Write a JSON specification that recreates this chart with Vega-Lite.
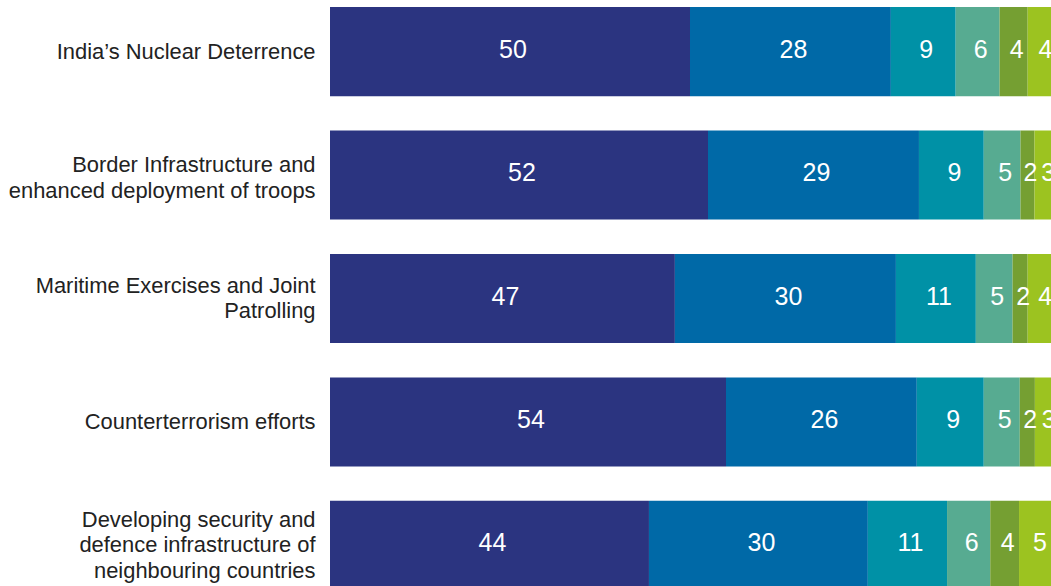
{
  "$schema": "https://vega.github.io/schema/vega-lite/v6.json",
  "autosize": {"type": "none"},
  "padding": {"left": 330, "top": 7, "right": 1, "bottom": 0},
  "width": 720,
  "height": 583,
  "background": "white",
  "config": {"view": {"stroke": null}, "font": "Liberation Sans"},
  "data": {"values": [
    {"cat": "India’s Nuclear Deterrence", "seg": 1, "pct": 50.0, "label": "50"},
    {"cat": "India’s Nuclear Deterrence", "seg": 2, "pct": 27.9, "label": "28"},
    {"cat": "India’s Nuclear Deterrence", "seg": 3, "pct": 9.0, "label": "9"},
    {"cat": "India’s Nuclear Deterrence", "seg": 4, "pct": 6.1, "label": "6"},
    {"cat": "India’s Nuclear Deterrence", "seg": 5, "pct": 3.9, "label": "4"},
    {"cat": "India’s Nuclear Deterrence", "seg": 6, "pct": 4.1, "label": "4"},
    {"cat": "Border Infrastructure and|enhanced deployment of troops", "seg": 1, "pct": 52.5, "label": "52"},
    {"cat": "Border Infrastructure and|enhanced deployment of troops", "seg": 2, "pct": 29.3, "label": "29"},
    {"cat": "Border Infrastructure and|enhanced deployment of troops", "seg": 3, "pct": 9.0, "label": "9"},
    {"cat": "Border Infrastructure and|enhanced deployment of troops", "seg": 4, "pct": 5.1, "label": "5"},
    {"cat": "Border Infrastructure and|enhanced deployment of troops", "seg": 5, "pct": 1.95, "label": "2"},
    {"cat": "Border Infrastructure and|enhanced deployment of troops", "seg": 6, "pct": 3.0, "label": "3"},
    {"cat": "Maritime Exercises and Joint|Patrolling", "seg": 1, "pct": 47.9, "label": "47"},
    {"cat": "Maritime Exercises and Joint|Patrolling", "seg": 2, "pct": 30.7, "label": "30"},
    {"cat": "Maritime Exercises and Joint|Patrolling", "seg": 3, "pct": 11.1, "label": "11"},
    {"cat": "Maritime Exercises and Joint|Patrolling", "seg": 4, "pct": 5.1, "label": "5"},
    {"cat": "Maritime Exercises and Joint|Patrolling", "seg": 5, "pct": 2.1, "label": "2"},
    {"cat": "Maritime Exercises and Joint|Patrolling", "seg": 6, "pct": 4.0, "label": "4"},
    {"cat": "Counterterrorism efforts", "seg": 1, "pct": 55.0, "label": "54"},
    {"cat": "Counterterrorism efforts", "seg": 2, "pct": 26.5, "label": "26"},
    {"cat": "Counterterrorism efforts", "seg": 3, "pct": 9.3, "label": "9"},
    {"cat": "Counterterrorism efforts", "seg": 4, "pct": 5.0, "label": "5"},
    {"cat": "Counterterrorism efforts", "seg": 5, "pct": 2.1, "label": "2"},
    {"cat": "Counterterrorism efforts", "seg": 6, "pct": 3.0, "label": "3"},
    {"cat": "Developing security and|defence infrastructure of|neighbouring countries", "seg": 1, "pct": 44.3, "label": "44"},
    {"cat": "Developing security and|defence infrastructure of|neighbouring countries", "seg": 2, "pct": 30.4, "label": "30"},
    {"cat": "Developing security and|defence infrastructure of|neighbouring countries", "seg": 3, "pct": 11.0, "label": "11"},
    {"cat": "Developing security and|defence infrastructure of|neighbouring countries", "seg": 4, "pct": 6.0, "label": "6"},
    {"cat": "Developing security and|defence infrastructure of|neighbouring countries", "seg": 5, "pct": 4.0, "label": "4"},
    {"cat": "Developing security and|defence infrastructure of|neighbouring countries", "seg": 6, "pct": 5.0, "label": "5"}
  ]},
  "transform": [
    {"stack": "pct", "groupby": ["cat"], "sort": [{"field": "seg", "order": "ascending"}], "as": ["x0", "x1"]},
    {"calculate": "(datum.x0 + datum.x1) / 2", "as": "mid"}
  ],
  "encoding": {
    "y": {
      "field": "cat",
      "type": "nominal",
      "sort": [
        "India’s Nuclear Deterrence",
        "Border Infrastructure and|enhanced deployment of troops",
        "Maritime Exercises and Joint|Patrolling",
        "Counterterrorism efforts",
        "Developing security and|defence infrastructure of|neighbouring countries"
      ],
      "scale": {"paddingInner": 0.278, "paddingOuter": 0},
      "axis": {
        "title": null,
        "ticks": false,
        "domain": false,
        "labelExpr": "split(datum.label, '|')",
        "labelFontSize": 21.9,
        "labelLineHeight": 25.5,
        "labelColor": "#222222",
        "labelPadding": 15,
        "labelLimit": 400,
        "labelFont": "Liberation Sans",
        "labelOffset": {
          "condition": [
            {"test": "indexof(datum.value, 'neighbouring') >= 0", "value": -25.5},
            {"test": "indexof(datum.value, 'Border') >= 0", "value": -10},
            {"test": "indexof(datum.value, '|') >= 0", "value": -12.75}
          ],
          "value": 0
        }
      }
    }
  },
  "layer": [
    {
      "mark": {"type": "bar"},
      "encoding": {
        "x": {"field": "x0", "type": "quantitative", "scale": {"domain": [0, 100], "nice": false, "zero": true}, "axis": null},
        "x2": {"field": "x1"},
        "color": {
          "field": "seg",
          "type": "ordinal",
          "scale": {"domain": [1, 2, 3, 4, 5, 6], "range": ["#2B3480", "#0069A7", "#0091A6", "#57AB91", "#759F32", "#9CC320"]},
          "legend": null
        }
      }
    },
    {
      "mark": {"type": "text", "color": "white", "fontSize": 25, "dx": 3, "dy": -2, "font": "Liberation Sans", "baseline": "middle", "align": "center"},
      "encoding": {
        "x": {"field": "mid", "type": "quantitative"},
        "text": {"field": "label"}
      }
    }
  ]
}
